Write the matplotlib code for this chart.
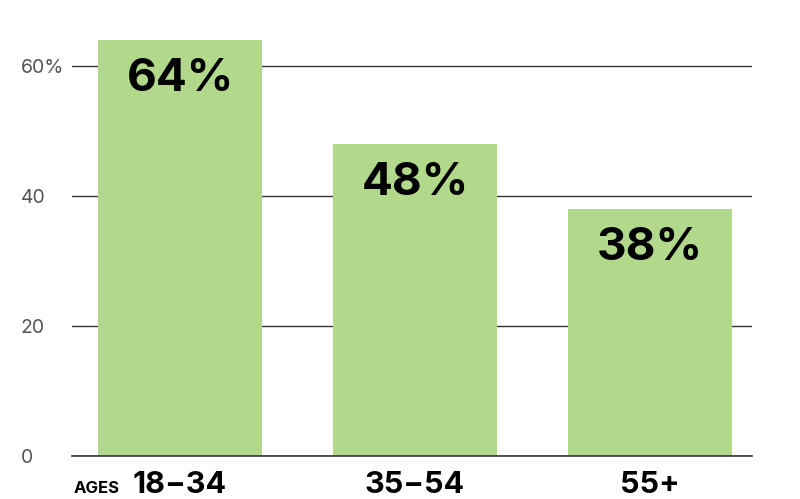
import numpy as np
import matplotlib.pyplot as plt

plt.rcParams['font.family'] = ['Inter', 'DejaVu Sans']

categories = ["18\u221234", "35\u221254", "55+"]
values = [64, 48, 38]
value_labels = ["64%", "48%", "38%"]
yticks = [0, 20, 40, 60]
ytick_labels = ["0", "20", "40", "60%"]

green = "#b2d88c"

fig = plt.figure(figsize=(8, 4.99), dpi=100)
ax = fig.add_axes([0.09, 0.0862, 0.85, 0.9138])

x = np.arange(len(categories))
bars = ax.bar(x, values, width=0.70, color=green, zorder=2)

for rect, lab in zip(bars, value_labels):
    ax.annotate(lab, xy=(rect.get_x() + rect.get_width() / 2, rect.get_height()),
                xytext=(0, -39), textcoords='offset pixels',
                ha='center', va='center', fontsize=33, fontweight='bold',
                color='black', zorder=3)

ax.set_xlim(-0.46, 2.434)
ax.set_ylim(0, 70.15)

ax.set_yticks(yticks, ytick_labels)
ax.set_xticks(x, categories)
ax.tick_params(axis='y', length=0, pad=37, labelsize=14, labelcolor='#555555')
ax.tick_params(axis='x', length=0, pad=11, labelsize=22)
for t in ax.get_yticklabels():
    t.set_horizontalalignment('left')
for t in ax.get_xticklabels():
    t.set_fontweight('bold')

ax.grid(axis='y', color='#333333', linewidth=1, zorder=1)
ax.set_axisbelow(True)
ax.axhline(0, color='#333333', linewidth=1.2, zorder=3, clip_on=False)
for s in ax.spines.values():
    s.set_visible(False)

ax.annotate("AGES", xy=(0, 0), xycoords=('data', 'axes fraction'),
            xytext=(-60, -37), textcoords='offset pixels',
            ha='right', va='baseline', fontsize=12, fontweight='bold')

fig.savefig("out.png", dpi=100)
